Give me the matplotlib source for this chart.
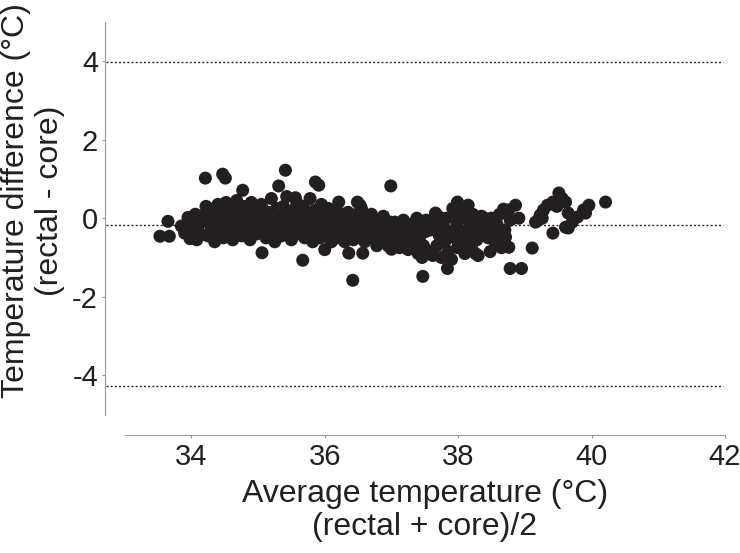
import matplotlib
matplotlib.use("Agg")
import matplotlib.pyplot as plt

INK = "#231f20"
SPINE = "#9a9a9a"

plt.rcParams.update({
    "font.family": ["Liberation Sans", "DejaVu Sans"],
    "text.color": INK,
    "axes.unicode_minus": False,
})

# Bland-Altman points (x = mean, y = diff)
avg_a = [33.53, 33.67, 33.65, 33.85, 33.90, 33.95, 33.98, 34.00, 34.03, 34.06,
         34.08, 34.10, 34.13, 34.15, 34.18]
diff_a = [-0.46, -0.46, -0.08, -0.20, -0.38, 0.02, -0.52, -0.12, -0.32, 0.10,
          -0.55, -0.22, 0.05, -0.42, -0.08]

avg_b = [34.21, 34.47, 34.51, 34.77,
         34.22, 34.25, 34.27, 34.30, 34.32, 34.35, 34.37, 34.40, 34.42, 34.45,
         34.48, 34.50, 34.52, 34.55, 34.58, 34.60, 34.62, 34.65, 34.68, 34.70,
         34.72, 34.75, 34.78, 34.80, 34.82, 34.85, 34.88, 34.90, 34.92, 34.95,
         34.98, 35.00,
         34.30, 34.40, 34.50, 34.60, 34.70, 34.80, 34.90, 34.35, 34.45, 34.55,
         34.65, 34.75, 34.85]
diff_b = [1.02, 1.12, 1.02, 0.71,
          0.30, -0.45, 0.00, -0.25, 0.15, -0.60, -0.10, 0.35, -0.35, 0.10,
          -0.50, -0.15, 0.40, 0.00, -0.30, 0.25, -0.55, -0.05, 0.45, -0.20,
          0.15, -0.45, 0.30, -0.10, -0.35, 0.10, -0.55, 0.40, -0.20, 0.00,
          -0.40, 0.20,
          0.05, -0.40, 0.20, -0.10, 0.05, 0.20, -0.30, 0.25, -0.20, 0.30,
          -0.35, 0.00, -0.20]

avg_c = [35.02, 35.05, 35.06, 35.10, 35.12, 35.15, 35.18, 35.20, 35.22, 35.25,
         35.28, 35.31, 35.30, 35.33, 35.35, 35.38, 35.41, 35.40, 35.43, 35.45,
         35.48, 35.50, 35.52, 35.55, 35.58, 35.60, 35.62, 35.65, 35.67, 35.68,
         35.70, 35.72, 35.75, 35.78, 35.80, 35.82, 35.85, 35.86, 35.91, 35.88,
         35.90, 35.93, 35.95, 35.98, 36.00,
         35.15, 35.35, 35.55, 35.75, 35.95, 35.25, 35.45, 35.65, 35.85, 35.56]
diff_c = [-0.25, 0.35, -0.88, -0.05, -0.50, 0.15, -0.30, 0.50, -0.10, -0.60,
          0.25, 0.82, -0.20, 0.05, -0.45, 0.30, 1.22, -0.15, 0.55, -0.35,
          0.10, -0.55, 0.20, -0.20, 0.40, -0.40, 0.00, -0.25, -1.07, 0.30,
          -0.50, 0.05, -0.30, 0.50, -0.10, -0.60, 0.20, 0.92, 0.84, -0.35,
          0.05, -0.50, 0.35, -0.20, 0.10,
          -0.15, 0.10, 0.10, -0.05, -0.35, -0.30, -0.05, 0.15, -0.15, 0.52]

avg_d = [36.02, 36.05, 36.08, 36.10, 36.12, 36.15, 36.18, 36.21, 36.20, 36.22,
         36.25, 36.28, 36.30, 36.33, 36.36, 36.35, 36.38, 36.42, 36.40, 36.43,
         36.45, 36.49, 36.48, 36.50, 36.53, 36.55, 36.57, 36.58, 36.60, 36.62,
         36.65, 36.68, 36.70, 36.72, 36.75, 36.78, 36.80, 36.82, 36.85, 36.88,
         36.90, 36.93, 36.95, 36.98, 36.99, 36.00, 36.53]
diff_d = [-0.45, 0.25, -0.15, -0.60, 0.05, -0.30, 0.20, 0.41, -0.50, -0.10,
          -0.35, 0.10, -0.60, -0.20, -0.89, 0.15, -0.40, -1.58, 0.00, -0.55,
          -0.25, 0.41, 0.10, -0.45, -0.10, 0.25, -0.89, -0.35, -0.60, 0.00,
          -0.25, -0.50, 0.10, -0.15, -0.40, -0.70, -0.05, -0.30, -0.55, 0.05,
          -0.20, -0.45, -0.70, -0.10, 0.82, -0.80, 0.33]

avg_e = [37.00, 37.02, 37.05, 37.08, 37.10, 37.12, 37.15, 37.18, 37.20, 37.22,
         37.25, 37.28, 37.30, 37.33, 37.35, 37.38, 37.40, 37.42, 37.45, 37.47,
         37.48, 37.50, 37.52, 37.55, 37.58, 37.60, 37.62, 37.65, 37.68, 37.70,
         37.72, 37.75, 37.78, 37.80, 37.84, 37.82, 37.85, 37.88, 37.90, 37.92,
         37.95, 37.98, 37.99, 37.99, 37.66, 37.96, 37.46]
diff_e = [-0.79, -0.30, -0.10, -0.55, -0.20, -0.75, -0.40, -0.05, -0.60, -0.25,
          -0.80, -0.45, -0.15, -0.65, -0.30, 0.00, -0.90, -0.50, -0.20, -1.48,
          -0.70, -0.35, -0.05, -0.85, -0.30, -0.10, -0.95, -0.30, -0.70, 0.05,
          -0.45, -1.00, -0.20, -0.60, -1.28, 0.00, -0.85, -0.35, -1.05, 0.25,
          -0.50, -0.15, 0.41, -0.75, 0.13, 0.13, -1.00]

avg_f = [38.03, 38.05, 38.08, 38.10, 38.12, 38.15, 38.15, 38.18, 38.20, 38.22,
         38.25, 38.26, 38.28, 38.30, 38.32, 38.35, 38.38, 38.40, 38.42, 38.45,
         38.48, 38.50, 38.52, 38.55, 38.58, 38.60, 38.62, 38.65, 38.68, 38.70,
         38.78]
diff_f = [-0.30, 0.15, -0.60, -0.90, 0.00, 0.33, -0.45, -0.20, -0.75, 0.10,
          -0.35, -0.90, -0.55, -0.95, -0.10, 0.05, -0.40, 0.00, -0.25, -0.50,
          -0.85, 0.00, -0.30, -0.60, -0.15, -0.45, 0.10, -0.75, 0.23, -0.30,
          -0.05]

avg_g = [38.86, 38.76, 38.91, 38.71, 38.76, 38.78, 38.95, 39.11, 39.16, 39.23,
         39.28, 39.34, 39.42, 39.51, 39.61, 39.42, 39.65, 39.71, 39.65, 39.61,
         39.79, 39.88, 39.96, 39.91, 40.21, 39.26, 39.20, 39.56, 39.48]
diff_g = [0.33, 0.21, 0.00, -0.48, -0.74, -1.28, -1.28, -0.76, -0.10, 0.08,
          0.21, 0.33, 0.41, 0.64, 0.41, -0.38, 0.13, -0.10, -0.25, -0.23,
          0.03, 0.21, 0.33, 0.13, 0.41, 0.00, -0.05, 0.50, 0.30]

# upper limit, mean bias, lower limit
ref_lines = [3.98, -0.18, -4.28]

x_ticks = [34, 36, 38, 40, 42]
y_ticks = [-4, -2, 0, 2, 4]

avg_temp = avg_a + avg_b + avg_c + avg_d + avg_e + avg_f + avg_g
temp_diff = diff_a + diff_b + diff_c + diff_d + diff_e + diff_f + diff_g

fig = plt.figure(figsize=(7.4, 5.53), dpi=100)
ax = fig.add_axes([0.1419, 0.2501, 0.8378, 0.7107])
ax.set_xlim(32.706, 42.0)
ax.set_ylim(-5, 5)

ax.hlines(ref_lines, 32.72, 41.97, colors=INK, linewidth=1.0,
          linestyles=[(0, (1.4, 1.6))], zorder=1)
ax.scatter(avg_temp, temp_diff, s=88, color=INK, edgecolors="none",
           zorder=3, clip_on=False)

for side in ("top", "right"):
    ax.spines[side].set_visible(False)
for side in ("left", "bottom"):
    ax.spines[side].set_color(SPINE)
    ax.spines[side].set_linewidth(0.8)
ax.spines["bottom"].set_position(("outward", 14.4))
ax.spines["bottom"].set_bounds(33, 42)

ax.set_xticks(x_ticks)
ax.set_yticks(y_ticks)
ax.tick_params(axis="x", direction="out", length=2, width=0.8, color=SPINE,
               pad=4, labelsize=21, labelcolor=INK)
ax.tick_params(axis="y", direction="out", length=2, width=0.8, color=SPINE,
               pad=3, labelsize=21, labelcolor=INK)

fig.text(425 / 740, 1 - 479 / 553,
         "Average temperature (°C)\n(rectal + core)/2",
         ha="center", va="top", fontsize=23, color=INK, linespacing=1.15)
fig.text(0.0446, 0.6365,
         "Temperature difference (°C)\n(rectal - core)",
         ha="center", va="center", rotation=90, fontsize=23, color=INK,
         linespacing=1.15)

fig.savefig("out.png", dpi=100)
